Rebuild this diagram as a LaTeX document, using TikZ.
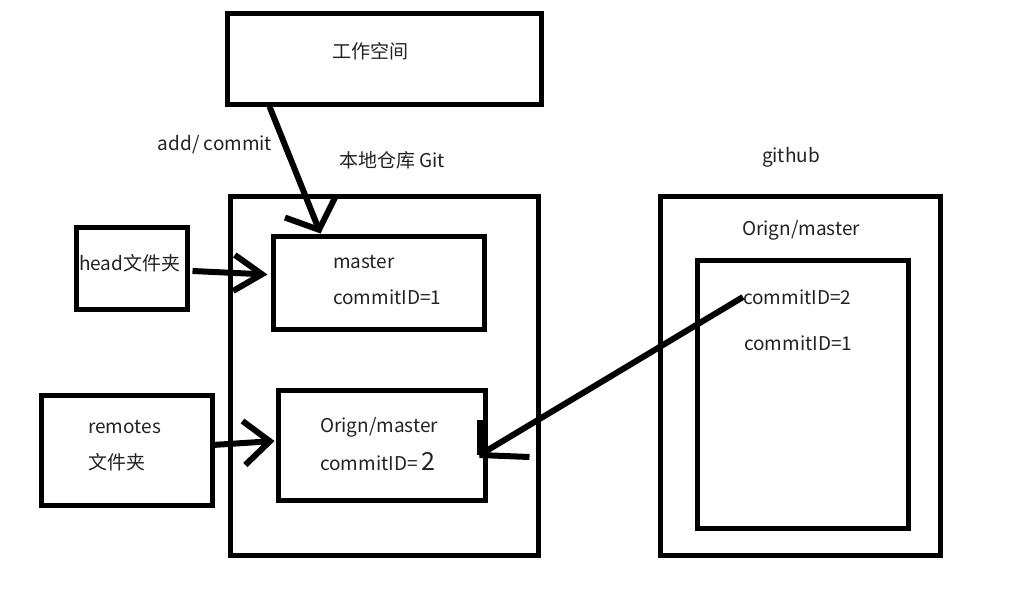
\documentclass[tikz,border=0pt]{standalone}
\usepackage{fontspec}
\setmainfont{Noto Sans CJK SC}
\usetikzlibrary{arrows.meta,calc}
\definecolor{txt}{HTML}{222222}
\begin{document}
\begin{tikzpicture}[x=1pt,y=-1pt,
  box/.style={draw=black, line width=5pt, inner sep=0pt},
  lbl/.style={text=txt, font=\fontsize{19}{22}\selectfont, inner sep=0pt},
  arr/.style={line width=6pt, draw=black},
]
\useasboundingbox (0,0) rectangle (1010,606);
% boxes
\node[box, minimum width=314pt, minimum height=91pt] (ws) at (384,58.5) {};
\node[box, minimum width=308pt, minimum height=359pt] (local) at (384,375.5) {};
\node[box, minimum width=211pt, minimum height=93pt] (master) at (378.5,282.5) {};
\node[box, minimum width=207pt, minimum height=110pt] (origL) at (381.5,445) {};
\node[box, minimum width=111pt, minimum height=82pt] (head) at (131.5,268) {};
\node[box, minimum width=171pt, minimum height=110pt] (remotes) at (126.5,450) {};
\node[box, minimum width=280pt, minimum height=359pt] (gh) at (800,375.5) {};
\node[box, minimum width=211pt, minimum height=268pt] (ghin) at (802.5,394) {};
% texts
\node[lbl] (t_ws) at (370,51) {工作空间};
\node[lbl] (t_add) at (215,145) {add/ commit};
\node[lbl] (t_local) at (392,160) {本地仓库 Git};
\node[lbl] (t_gh) at (791,157) {github};
\node[lbl] (t_ghom) at (801,230) {Orign/master};
\node[lbl, anchor=west] (c2) at (743,297) {commitID=2};
\node[lbl, anchor=west] (c1) at (744,343) {commitID=1};
\node[lbl, anchor=west] (t_master) at (333,262) {master};
\node[lbl, anchor=west] (t_mc) at (333,297) {commitID=1};
\node[lbl, anchor=west] (t_head) at (79,263) {head文件夹};
\node[lbl, anchor=west] (t_rem) at (88,427) {remotes};
\node[lbl, anchor=west] (t_remf) at (88,462) {文件夹};
\node[lbl, anchor=west] (t_om) at (320,427) {Orign/master};
\node[lbl, anchor=west] (t_oc) at (320,462) {commitID= {\fontsize{25}{27}\selectfont 2}};
% arrows
\draw[arr, -{Straight Barb[length=24pt,width=54pt,line width=6pt]}]
  ($(ws.south west)+(45,0)$) -- ($(master.north west)+(50,0)$);
\draw[arr, -{Straight Barb[length=28pt,width=36pt,line width=6pt]}]
  ($(head.east)+(3,3)$) -- ($(master.west)+(-3,-8)$);
\draw[arr, -{Straight Barb[length=26pt,width=44pt,line width=6pt]}]
  ($(remotes.east)+(-2,-5)$) -- ($(origL.west)+(-1,-4)$);
\coordinate (gtip) at ($(origL.east)+(-8,10)$);
\draw[arr] (c2.west) -- (gtip);
\draw[arr] (gtip) -- ++(0,-35);
\draw[arr] (gtip) -- ++(50,2);
\end{tikzpicture}
\end{document}
